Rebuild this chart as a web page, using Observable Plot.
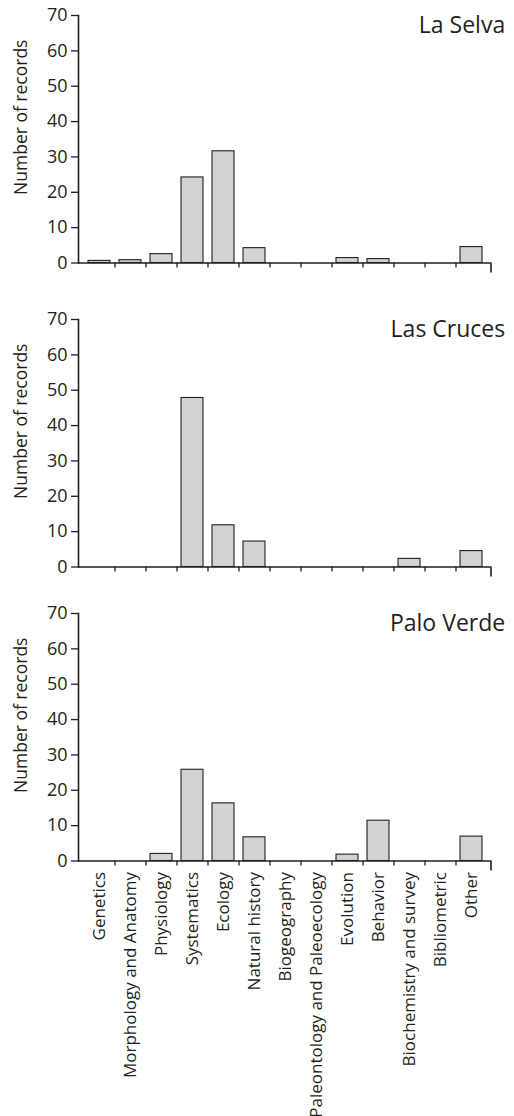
<!DOCTYPE html>
<html><head><meta charset="utf-8">
<script src="https://cdn.jsdelivr.net/npm/d3@7"></script>
<script src="https://cdn.jsdelivr.net/npm/@observablehq/plot@0.6"></script>
<style>
body{margin:0;background:#fff}
#c{width:514px}
#c svg{display:block}
</style>
</head><body><div id="c"></div>
<script>
const categories = ["Genetics","Morphology and Anatomy","Physiology","Systematics","Ecology","Natural history","Biogeography","Paleontology and Paleoecology","Evolution","Behavior","Biochemistry and survey","Bibliometric","Other"];
const stations = ["La Selva","Las Cruces","Palo Verde"];
const laSelva   = [0.6, 0.8, 2.5, 24.2, 31.6, 4.2, 0, 0, 1.4, 1.1, 0,   0, 4.5];
const lasCruces = [0,   0,   0,   47.8, 11.8, 7.2, 0, 0, 0,   0,   2.3, 0, 4.5];
const paloVerde = [0,   0,   2.0, 25.8, 16.3, 6.7, 0, 0, 1.8, 11.4, 0,  0, 6.9];
const yTicks = [0, 10, 20, 30, 40, 50, 60, 70];
const yLabel = "Number of records";

const ink = "#231f20";
const X0 = 83.7, X1 = 486.7;
const step = (X1 - X0) / categories.length;

function panel(name, values, h, mb, showLabels) {
  const data = categories.map((c, i) => ({category: c, value: values[i]})).filter(d => d.value > 0);
  return Plot.plot({
    width: 514, height: h,
    marginLeft: 78, marginRight: 23.3, marginTop: 15, marginBottom: mb,
    style: {fontFamily: "'Open Sans', sans-serif", fontSize: "18px", color: ink, background: "white", overflow: "visible"},
    x: {domain: categories, range: [X0, X1], paddingInner: 0.3, paddingOuter: 0.15},
    y: {domain: [0, 70]},
    marks: [
      Plot.barY(data, {x: "category", y: "value", fill: "#d1d3d4", stroke: ink, strokeWidth: 1.1}),
      Plot.ruleY([0], {stroke: ink, strokeWidth: 1.6}),
      Plot.frame({anchor: "left", stroke: ink, strokeWidth: 1.6}),
      Plot.axisY({ticks: yTicks, tickSize: 7, tickPadding: 4, fontSize: 18, stroke: ink, strokeWidth: 1.3, label: null}),
      Plot.text([yLabel], {frameAnchor: "left", textAnchor: "middle", lineAnchor: "middle", rotate: -90, dx: -57, dy: -22, fontSize: 17.5, fill: ink}),
      Plot.axisX(categories.slice(1), {tickSize: 5, dx: -step / 2, tickFormat: null, label: null, stroke: ink, strokeWidth: 1.3}),
      Plot.axisX(categories.slice(-1), {tickSize: 10, dx: step / 2 + 4, tickFormat: null, label: null, stroke: ink, strokeWidth: 1.6}),
      showLabels ? Plot.axisX({tickSize: 0, tickRotate: -90, tickPadding: 11, fontSize: 17, label: null}) : null,
      Plot.text([name], {frameAnchor: "top-right", textAnchor: "end", lineAnchor: "top", dx: 14, dy: 1, fontSize: 23, fill: ink})
    ]
  });
}

const c = document.getElementById("c");
c.append(panel(stations[0], laSelva, 304, 41.5, false));
c.append(panel(stations[1], lasCruces, 294, 31.5, false));
c.append(panel(stations[2], paloVerde, 518, 255.5, true));
</script>
</body></html>
